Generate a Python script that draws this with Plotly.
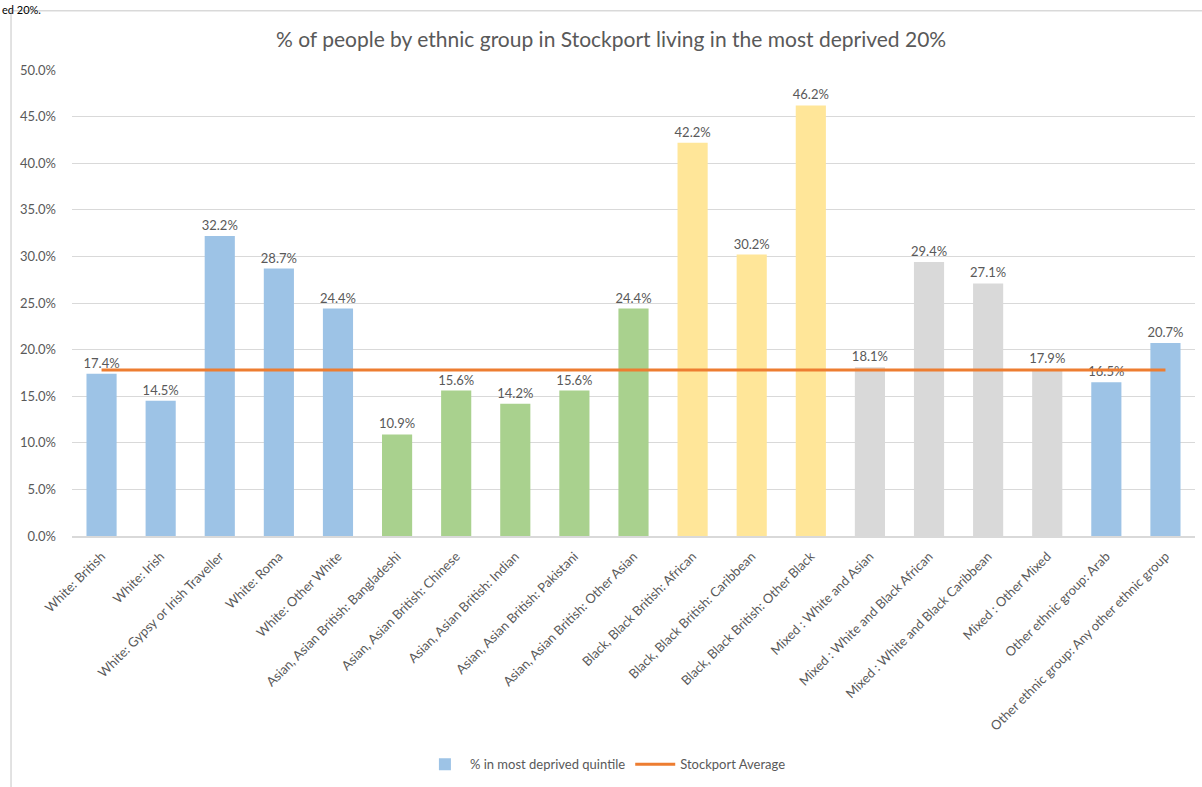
import plotly.graph_objects as go

# Ethnic groups (x axis) and share living in the most deprived quintile
categories = [
    "White: British", "White: Irish", "White: Gypsy or Irish Traveller", "White: Roma",
    "White: Other White", "Asian, Asian British: Bangladeshi", "Asian, Asian British: Chinese",
    "Asian, Asian British: Indian", "Asian, Asian British: Pakistani",
    "Asian, Asian British: Other Asian", "Black, Black British: African",
    "Black, Black British: Caribbean", "Black, Black British: Other Black",
    "Mixed : White and Asian", "Mixed : White and Black African",
    "Mixed : White and Black Caribbean", "Mixed : Other Mixed",
    "Other ethnic group: Arab", "Other ethnic group: Any other ethnic group",
]
pct_deprived = [17.4, 14.5, 32.2, 28.7, 24.4, 10.9, 15.6, 14.2, 15.6, 24.4,
                42.2, 30.2, 46.2, 18.1, 29.4, 27.1, 17.9, 16.5, 20.7]
groups = ["White"] * 5 + ["Asian"] * 5 + ["Black"] * 3 + ["Mixed"] * 4 + ["Other"] * 2
stockport_average = 17.8
y_ticks = [0, 5, 10, 15, 20, 25, 30, 35, 40, 45, 50]

group_colors = {
    "White": "#9DC3E6",
    "Asian": "#A9D18E",
    "Black": "#FFE699",
    "Mixed": "#D9D9D9",
    "Other": "#9DC3E6",
}
TEXT = "#595959"
FONT = "Lato, Open Sans, sans-serif"

fig = go.Figure()
fig.add_trace(go.Bar(
    x=categories,
    y=pct_deprived,
    name="% in most deprived quintile",
    marker=dict(color=[group_colors[g] for g in groups], line=dict(width=0)),
    width=0.51,
    text=[f"{v:.1f}%" for v in pct_deprived],
    textposition="outside",
    constraintext="none",
    textfont=dict(size=13, color=TEXT, family=FONT),
    cliponaxis=False,
))
fig.add_trace(go.Scatter(
    x=categories,
    y=[stockport_average] * len(categories),
    mode="lines",
    name="Stockport Average",
    line=dict(color="#ED7D31", width=3),
))

# Page-width frame around the chart (left and top edges)
frame = dict(type="line", xref="paper", yref="paper", line=dict(color="#D9D9D9", width=1.5))
fig.add_shape(frame, x0=-0.0543, x1=-0.0543, y0=-0.6, y1=1.1274)
fig.add_shape(frame, x0=-0.0543, x1=1.2, y0=1.1274, y1=1.1274)

# Tail of the sentence above the chart
fig.add_annotation(
    text="ed 20%.", xref="paper", yref="paper", x=-0.064, y=1.1486,
    xanchor="left", yanchor="top", showarrow=False,
    font=dict(size=11, color="#000000", family=FONT),
)

fig.update_layout(
    width=1202, height=787,
    margin=dict(l=72, r=7, t=70, b=246),
    paper_bgcolor="white", plot_bgcolor="white",
    font=dict(family=FONT, color=TEXT, size=13),
    title=dict(
        text="% of people by ethnic group in Stockport living in the most deprived 20%",
        x=0.48, xref="paper", xanchor="center",
        y=1 - 40 / 787, yref="container", yanchor="middle",
        font=dict(size=21, color=TEXT, family=FONT),
    ),
    showlegend=True,
    legend=dict(
        orientation="h", x=0.475, xanchor="center", y=-0.49, yanchor="middle",
        font=dict(size=13, color=TEXT, family=FONT),
        itemwidth=40, tracegroupgap=0,
    ),
    bargap=0.49,
)
fig.update_xaxes(
    tickangle=-45, tickfont=dict(size=13, color=TEXT, family=FONT),
    showgrid=False, showline=True, linecolor="#D9D9D9", linewidth=1.5,
    ticks="", ticklabelstandoff=6, range=[-0.5, len(categories) - 0.5],
)
fig.update_yaxes(
    range=[0, 50], tickvals=y_ticks, ticktext=[f"{t:.1f}%" for t in y_ticks],
    tickfont=dict(size=13, color=TEXT, family=FONT),
    showgrid=True, gridcolor="#D9D9D9", gridwidth=1.2,
    zeroline=False, showline=False, ticks="", ticklabelstandoff=15,
)

fig.write_html("out.html")
